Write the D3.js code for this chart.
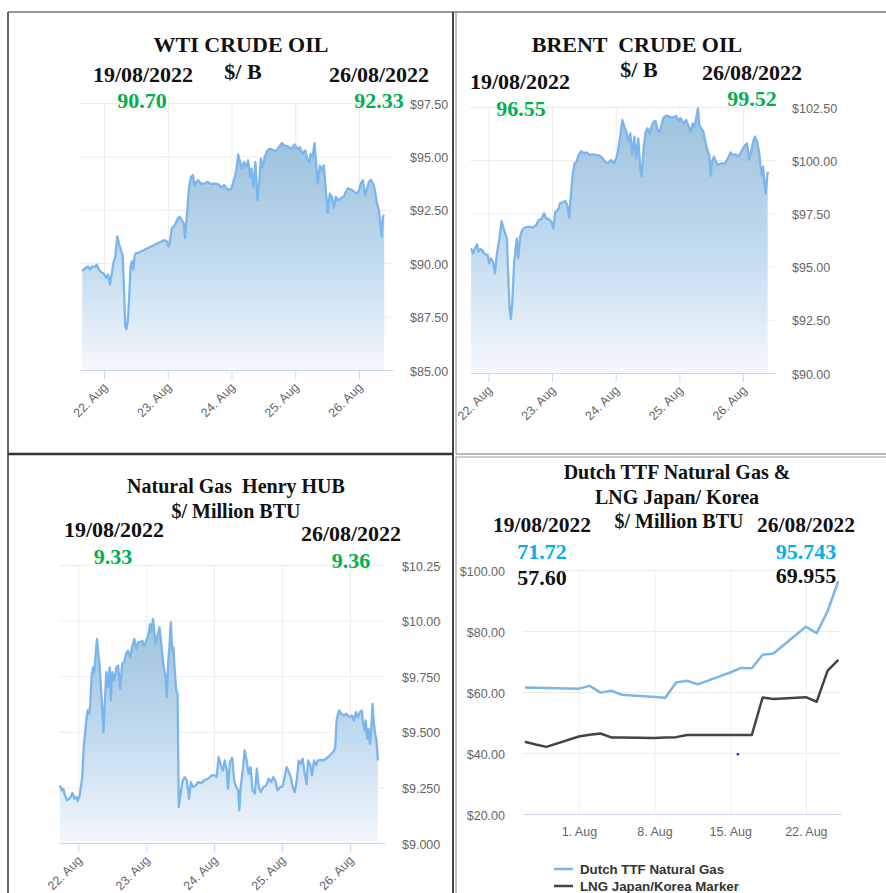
<!DOCTYPE html>
<html>
<head>
<meta charset="utf-8">
<script src="https://cdn.jsdelivr.net/npm/d3@7"></script>
<style>
  body { margin: 0; background: #fff; }
  svg { display: block; }
  .head { font-family: 'Liberation Serif', 'Times New Roman', serif; font-weight: bold; white-space: pre; }
</style>
</head>
<body>
<div id="chart"></div>
<script>
// intraday series: [hours since 21 Aug 2022 00:00, price]
const wtiSeries = [[15.75,89.62],[17,89.78],[18,89.85],[18.75,89.70],[19.5,89.85],[20.5,89.82],[21.25,89.93],[22,89.73],[23,89.57],[24,89.51],[24.75,89.31],[25.5,89.47],[26.25,89.0],[26.75,89.39],[27.5,90.0],[28.25,90.32],[29,91.25],[29.75,90.86],[30.5,90.55],[31,90.40],[31.5,88.92],[32,87.06],[32.5,86.91],[33,87.37],[33.5,88.46],[34,89.85],[34.5,90.09],[35,89.70],[35.5,90.32],[36,90.47],[36.5,90.47],[46.75,91.09],[47.75,91.01],[48.25,90.78],[48.75,90.94],[49.5,91.64],[50.25,91.71],[51,91.87],[51.75,92.10],[52.5,92.18],[53.25,92.02],[54,91.87],[54.5,91.17],[55.25,92.33],[56,93.57],[56.75,94.04],[57.5,94.12],[58,93.65],[58.75,93.81],[59.5,93.88],[60.5,93.73],[61.75,93.73],[63,93.81],[64.25,93.70],[65.75,93.73],[67,93.70],[68.25,93.54],[69.25,93.65],[70.5,93.45],[71.75,93.45],[72.5,93.73],[73.25,94.04],[74,94.50],[74.5,95.09],[75.25,94.74],[76,94.43],[76.75,94.74],[77.5,94.50],[78.25,94.81],[79,94.04],[79.5,94.43],[80.25,93.57],[81,94.74],[81.75,92.95],[82.5,93.88],[83,94.89],[83.75,94.50],[84.5,94.97],[85.5,95.28],[86.5,95.36],[87.5,95.31],[88.75,95.25],[90,95.47],[91,95.62],[92,95.51],[93.25,95.47],[94.5,95.36],[95.75,95.56],[96.75,95.36],[97.75,95.43],[98.75,95.12],[99.75,95.28],[100.5,94.89],[101.25,94.74],[101.75,95.12],[102.5,94.97],[103.25,95.62],[103.75,94.81],[104.5,93.73],[105.25,94.58],[106,94.35],[106.75,94.58],[107.5,93.42],[108.25,92.36],[109,93.26],[109.75,93.11],[110.5,92.57],[111.25,93.11],[112,92.95],[113,93.03],[114.25,93.11],[115,93.34],[115.75,93.50],[117,93.45],[118.25,93.34],[119.25,93.26],[120,93.42],[120.75,93.76],[121.5,93.88],[122.25,93.19],[123,93.50],[123.75,93.81],[124.5,93.91],[125.25,93.73],[126,93.42],[126.75,92.80],[127.5,92.49],[128,91.87],[128.5,91.25],[129,92.18],[129.5,92.26]]

const brentSeries = [[17.5,95.86],[18.25,95.62],[19,95.86],[19.75,96.05],[20.25,95.70],[21,95.83],[21.75,95.76],[22.75,95.58],[23.75,95.55],[24.25,95.15],[25,95.39],[25.75,95.23],[26.5,94.68],[27.25,95.62],[28,96.17],[29,97.14],[29.75,96.80],[30.5,96.49],[31,96.33],[31.5,94.61],[32,93.04],[32.5,92.54],[33,93.27],[33.75,95.23],[34.25,95.78],[34.75,96.33],[35.25,95.39],[36,96.41],[36.75,96.72],[37.75,96.83],[39.25,96.88],[40.75,96.83],[42,96.95],[43,97.19],[44,97.24],[45,97.50],[45.75,97.27],[46.75,97.24],[47.75,97.11],[48.5,96.80],[49.25,97.58],[50.25,97.66],[51,97.97],[52,98.02],[53,98.08],[53.75,97.89],[54.5,97.30],[55,98.21],[55.75,99.30],[56.5,99.85],[57.25,99.93],[58,100.24],[59,100.43],[60,100.32],[61,100.37],[62.25,100.24],[63.5,100.28],[64.75,100.24],[66,100.21],[67,100.09],[68,99.93],[69,99.85],[70.25,100.01],[71.25,99.85],[72.25,100.09],[73,100.56],[73.75,101.18],[74.5,101.89],[75.25,101.58],[76,101.34],[76.75,100.87],[77.5,101.26],[78.25,100.24],[79,101.11],[79.75,100.09],[80.5,101.03],[81.25,99.62],[81.75,99.23],[82.5,100.56],[83.25,101.34],[84,101.50],[84.75,101.26],[85.5,101.58],[86.25,101.81],[87,101.84],[87.75,101.42],[88.5,101.34],[89.25,101.65],[90,102.0],[91,102.09],[92.25,102.05],[93.5,102.0],[94.75,102.09],[95.75,101.84],[96.5,101.97],[97.5,101.73],[98.5,101.89],[99.5,101.58],[100.25,101.34],[101,101.73],[101.75,101.58],[102.5,102.12],[103,102.44],[103.5,101.65],[104.25,101.50],[105,101.34],[105.75,100.87],[106.5,100.48],[107.25,100.24],[107.75,99.27],[108.25,99.93],[109,100.17],[109.75,99.93],[110.5,99.77],[111.75,99.85],[113.25,99.85],[114.25,100.09],[115.25,100.37],[116,100.24],[117,100.28],[118,100.17],[119,100.32],[120,100.56],[120.75,100.71],[121.5,100.79],[122.25,100.01],[123,100.40],[123.75,100.87],[124.5,101.11],[125.25,100.87],[126,100.40],[126.5,99.77],[127,99.30],[127.5,99.70],[128,98.99],[128.5,98.44],[129,99.15],[129.25,99.46]]

const henrySeries = [[17.5,9.259],[18.1,9.237],[18.7,9.244],[19.3,9.214],[20.0,9.192],[20.7,9.199],[21.4,9.207],[21.9,9.225],[22.6,9.199],[23.3,9.207],[23.8,9.189],[24.5,9.214],[24.9,9.251],[25.4,9.296],[25.9,9.431],[26.4,9.491],[26.8,9.551],[27.3,9.596],[27.8,9.581],[28.2,9.618],[28.7,9.746],[29.2,9.790],[29.6,9.768],[30.1,9.843],[30.6,9.918],[31.1,9.850],[31.5,9.805],[32.0,9.701],[32.5,9.596],[32.9,9.499],[33.4,9.641],[33.9,9.768],[34.4,9.701],[35.1,9.790],[35.5,9.641],[36.0,9.768],[36.7,9.731],[37.4,9.790],[38.1,9.798],[38.8,9.693],[39.5,9.805],[40.2,9.813],[40.9,9.850],[41.6,9.865],[42.4,9.835],[43.1,9.888],[43.8,9.918],[44.5,9.873],[45.2,9.903],[45.9,9.903],[46.6,9.910],[47.3,9.888],[48.0,9.910],[48.7,9.933],[49.4,9.985],[49.9,9.948],[50.4,10.007],[50.8,9.963],[51.3,9.895],[52.0,9.933],[52.7,9.970],[53.4,9.888],[54.1,9.798],[54.8,9.753],[55.3,9.656],[55.8,9.820],[56.2,9.880],[56.7,9.993],[57.2,9.865],[57.6,9.880],[58.1,9.775],[58.6,9.686],[59.1,9.671],[59.5,9.162],[60.0,9.207],[60.5,9.251],[60.9,9.281],[61.6,9.296],[62.4,9.281],[63.1,9.199],[63.8,9.274],[64.5,9.251],[65.4,9.259],[66.4,9.274],[67.5,9.269],[68.7,9.284],[69.9,9.289],[71.1,9.304],[72.2,9.304],[72.9,9.296],[73.6,9.386],[74.4,9.349],[75.1,9.326],[75.8,9.371],[76.5,9.326],[76.9,9.244],[77.6,9.364],[78.4,9.383],[79.1,9.281],[79.8,9.251],[80.5,9.237],[80.9,9.147],[81.4,9.251],[82.1,9.326],[82.8,9.416],[83.5,9.371],[84.2,9.311],[84.9,9.341],[85.6,9.237],[86.4,9.222],[87.1,9.334],[87.8,9.251],[88.5,9.229],[89.4,9.251],[90.4,9.259],[91.3,9.289],[92.2,9.274],[92.9,9.296],[93.6,9.281],[94.4,9.237],[95.3,9.251],[96.2,9.254],[96.9,9.296],[97.6,9.341],[98.4,9.319],[99.1,9.296],[99.8,9.251],[100.5,9.229],[101.2,9.281],[101.9,9.371],[102.6,9.356],[103.3,9.379],[104.0,9.311],[104.7,9.266],[105.2,9.371],[105.9,9.356],[106.6,9.304],[107.3,9.371],[108.0,9.349],[108.7,9.371],[109.6,9.374],[110.6,9.371],[111.5,9.379],[112.5,9.389],[113.4,9.401],[114.4,9.416],[114.8,9.431],[115.3,9.551],[115.8,9.581],[116.2,9.596],[116.9,9.581],[117.9,9.573],[118.8,9.581],[119.8,9.566],[120.7,9.573],[121.4,9.551],[122.1,9.588],[122.8,9.566],[123.5,9.588],[124.2,9.596],[124.7,9.536],[125.2,9.506],[125.6,9.551],[126.1,9.469],[126.6,9.513],[127.1,9.446],[127.5,9.506],[128.0,9.626],[128.5,9.536],[128.9,9.491],[129.4,9.461],[129.9,9.371]]

// daily series for TTF / LNG
const gasDates = ['2022-07-27','2022-07-28','2022-07-29','2022-08-01','2022-08-02','2022-08-03','2022-08-04','2022-08-05','2022-08-08','2022-08-09','2022-08-10','2022-08-11','2022-08-12','2022-08-15','2022-08-16','2022-08-17','2022-08-18','2022-08-19','2022-08-22','2022-08-23','2022-08-24','2022-08-25']
const ttfValues = [61.5,61.4,61.3,61.1,62.0,59.8,60.4,59.1,58.4,58.1,63.1,63.7,62.5,66.4,67.9,67.8,72.2,72.6,81.4,79.3,86.4,96.4]
const lngValues = [43.7,42.8,42.0,45.4,46.0,46.4,45.1,45.1,44.9,45.1,45.2,45.9,45.9,45.9,45.9,45.9,58.2,57.7,58.3,56.8,66.9,70.5]
const strayDot = [['2022-08-15T17:00', 39.6]]

// tick values
const oilDays = ['2022-08-22','2022-08-23','2022-08-24','2022-08-25','2022-08-26']
const gasWeeks = ['2022-08-01','2022-08-08','2022-08-15','2022-08-22']
const wtiTicks = [85, 87.5, 90, 92.5, 95, 97.5]
const brentTicks = [90, 92.5, 95, 97.5, 100, 102.5]
const henryTicks = [9, 9.25, 9.5, 9.75, 10, 10.25]
const gasTicks = [20, 40, 60, 80, 100]
const legendNames = ['Dutch TTF Natural Gas', 'LNG Japan/Korea Marker']

// header texts
const fromDate = '19/08/2022'
const toDateText = '26/08/2022'
const wtiQuotes = ['90.70', '92.33']
const brentQuotes = ['96.55', '99.52']
const henryQuotes = ['9.33', '9.36']
const ttfQuotes = ['71.72', '95.743']
const lngQuotes = ['57.60', '69.955']

const W = 886, H = 893
const base = new Date(2022, 7, 21)
const hourDate = (h) => new Date(base.getTime() + h * 3600 * 1000)
const parseDay = d3.timeParse('%Y-%m-%d')
const parseHour = d3.timeParse('%Y-%m-%dT%H:%M')
const sans = "'Liberation Sans', Arial, sans-serif"

const svg = d3.select('#chart').append('svg').attr('width', W).attr('height', H)
svg.append('rect').attr('width', W).attr('height', H).attr('fill', '#fff')
const defs = svg.append('defs')

function clipRect(id, x, y, w, h) {
  defs.append('clipPath').attr('id', id).append('rect')
    .attr('x', x).attr('y', y).attr('width', w).attr('height', h)
}

// one intraday area chart (WTI, Brent, Henry Hub)
function intraday(p) {
  clipRect('clip-' + p.name, p.clip[0], p.clip[1], p.clip[2], p.clip[3])
  const g = svg.append('g').attr('clip-path', `url(#clip-${p.name})`)

  const x = d3.scaleTime().domain([hourDate(p.h0), hourDate(p.h1)]).range([p.left, p.right])
  const y = d3.scaleLinear().domain(d3.extent(p.ticks)).range([p.bottom, p.top])
  const days = oilDays.map(parseDay)

  // grid
  g.append('g').attr('transform', `translate(${p.left},0)`)
    .call(d3.axisLeft(y).tickValues(p.ticks).tickSize(-(p.right - p.left)).tickFormat(''))
    .call((a) => a.select('.domain').remove())
    .call((a) => a.selectAll('line').attr('stroke', '#ececec'))
  g.append('g').attr('transform', `translate(0,${p.bottom})`)
    .call(d3.axisBottom(x).tickValues(days).tickSize(-(p.bottom - p.top)).tickFormat('').tickSizeOuter(0))
    .call((a) => a.select('.domain').remove())
    .call((a) => a.selectAll('line').attr('stroke', '#ececec'))

  // gradient area + line
  const grad = defs.append('linearGradient').attr('id', 'grad-' + p.name)
    .attr('x1', 0).attr('y1', 0).attr('x2', 0).attr('y2', 1)
  grad.append('stop').attr('offset', 0).attr('stop-color', '#9cc2dd')
  grad.append('stop').attr('offset', 0.5).attr('stop-color', '#bfd9ee')
  grad.append('stop').attr('offset', 1).attr('stop-color', '#f4f8fd')

  const data = p.series.map(([h, v]) => ({ date: hourDate(h), v }))
  g.append('path').datum(data)
    .attr('fill', `url(#grad-${p.name})`)
    .attr('d', d3.area().x((d) => x(d.date)).y0(p.bottom).y1((d) => y(d.v)))
  g.append('path').datum(data)
    .attr('fill', 'none')
    .attr('stroke', '#7cb5ec')
    .attr('stroke-width', 2.3)
    .attr('stroke-linejoin', 'round')
    .attr('d', d3.line().x((d) => x(d.date)).y((d) => y(d.v)))

  // x axis with rotated labels
  g.append('g').attr('transform', `translate(0,${p.bottom})`)
    .call(d3.axisBottom(x).tickValues(days).tickSize(9).tickSizeOuter(0).tickFormat(d3.timeFormat('%-d. %b')))
    .call((a) => a.select('.domain').attr('stroke', '#ccd6eb'))
    .call((a) => a.selectAll('line').attr('stroke', '#ccd6eb'))
    .call((a) => a.selectAll('text')
      .attr('y', 0).attr('dy', 0).attr('text-anchor', 'end')
      .attr('transform', 'translate(4,18) rotate(-45)')
      .attr('fill', '#666').attr('font-size', 12.5).attr('font-family', sans))

  // y labels on the right
  g.append('g').attr('transform', `translate(${p.right},0)`)
    .call(d3.axisRight(y).tickValues(p.ticks).tickSize(0).tickPadding(17).tickFormat(d3.format(p.fmt)))
    .call((a) => a.select('.domain').remove())
    .call((a) => a.selectAll('text')
      .attr('fill', '#666').attr('font-size', 12.5).attr('font-family', sans).attr('dy', '0.4em'))
}

intraday({ name: 'wti', series: wtiSeries, ticks: wtiTicks, fmt: '$.2f',
  left: 80, right: 393, top: 103, bottom: 370, h0: 14.96, h1: 132.8, clip: [9, 13, 443, 440] })
intraday({ name: 'brent', series: brentSeries, ticks: brentTicks, fmt: '$.2f',
  left: 470, right: 775, top: 107, bottom: 373, h0: 17.1, h1: 132.0, clip: [457, 13, 429, 440] })
intraday({ name: 'henry', series: henrySeries, ticks: henryTicks, fmt: '$.3f',
  left: 59, right: 385, top: 565, bottom: 843, h0: 17.18, h1: 132.4, clip: [9, 456, 432, 437] })

// TTF / LNG panel
{
  clipRect('clip-gas', 457, 458, 429, 435)
  const g = svg.append('g').attr('clip-path', 'url(#clip-gas)')
  const left = 523, right = 841, top = 570, bottom = 814
  const x = d3.scaleTime().domain([new Date(2022, 6, 26, 20), new Date(2022, 7, 25, 6)]).range([left, right])
  const y = d3.scaleLinear().domain([20, 100]).range([bottom, top])
  const weeks = gasWeeks.map(parseDay)

  g.append('g').attr('transform', `translate(${left},0)`)
    .call(d3.axisLeft(y).tickValues(gasTicks).tickSize(-(right - left)).tickFormat(''))
    .call((a) => a.select('.domain').remove())
    .call((a) => a.selectAll('line').attr('stroke', '#ececec'))
  g.append('g').attr('transform', `translate(0,${bottom})`)
    .call(d3.axisBottom(x).tickValues(weeks).tickSize(-(bottom - top)).tickFormat('').tickSizeOuter(0))
    .call((a) => a.select('.domain').remove())
    .call((a) => a.selectAll('line').attr('stroke', '#ececec'))

  g.append('g').attr('transform', `translate(0,${bottom})`)
    .call(d3.axisBottom(x).tickValues(weeks).tickSize(0).tickPadding(13).tickSizeOuter(0).tickFormat(d3.timeFormat('%-d. %b')))
    .call((a) => a.select('.domain').attr('stroke', '#ccd6eb'))
    .call((a) => a.selectAll('text').attr('fill', '#666').attr('font-size', 12.5).attr('font-family', sans))

  g.append('g').attr('transform', `translate(${left},0)`)
    .call(d3.axisLeft(y).tickValues(gasTicks).tickSize(0).tickPadding(18).tickFormat(d3.format('$.2f')))
    .call((a) => a.select('.domain').remove())
    .call((a) => a.selectAll('text').attr('fill', '#666').attr('font-size', 12.5).attr('font-family', sans).attr('dy', '0.4em'))

  const dates = gasDates.map(parseDay)
  const line = d3.line().x((d) => x(d[0])).y((d) => y(d[1]))
  const series = [
    { values: ttfValues, color: '#7cb5ec' },
    { values: lngValues, color: '#434348' },
  ]
  series.forEach((s) => {
    g.append('path').datum(dates.map((d, i) => [d, s.values[i]]))
      .attr('fill', 'none').attr('stroke', s.color).attr('stroke-width', 2.5)
      .attr('stroke-linejoin', 'round').attr('d', line)
  })

  g.selectAll('circle.stray').data(strayDot).enter().append('circle')
    .attr('cx', (d) => x(parseHour(d[0]))).attr('cy', (d) => y(d[1]))
    .attr('r', 1.3).attr('fill', '#1a2bd8')

  // legend
  const lg = g.selectAll('g.legend').data(legendNames).enter().append('g')
    .attr('transform', (d, i) => `translate(554,${869 + i * 17})`)
  lg.append('line').attr('x1', 0).attr('x2', 19)
    .attr('stroke', (d, i) => series[i].color).attr('stroke-width', 2.5)
  lg.append('text').attr('x', 26).attr('dy', '0.35em')
    .attr('font-family', sans).attr('font-size', 13.3).attr('font-weight', 'bold').attr('fill', '#333')
    .text((d) => d)
}

// headers
const green = '#00b050', cyan = '#00b0f0', ink = '#111'
const heads = [
  ['WTI CRUDE OIL', 241, 52, 22, ink],
  [fromDate, 143, 82, 22, ink],
  ['$/ B', 243, 79, 22, ink],
  [toDateText, 379, 82, 22, ink],
  [wtiQuotes[0], 142, 108, 22, green],
  [wtiQuotes[1], 379, 108, 22, green],

  ['BRENT  CRUDE OIL', 637, 52, 22, ink],
  ['$/ B', 639, 77, 22, ink],
  [fromDate, 520, 89, 22, ink],
  [toDateText, 752, 80, 22, ink],
  [brentQuotes[0], 521, 116, 22, green],
  [brentQuotes[1], 752, 106, 22, green],

  ['Natural Gas  Henry HUB', 236, 493, 20, ink],
  ['$/ Million BTU', 236, 518, 20, ink],
  [fromDate, 114, 537, 22, ink],
  [toDateText, 351, 541, 22, ink],
  [henryQuotes[0], 113, 564, 22, green],
  [henryQuotes[1], 351, 568, 22, green],

  ['Dutch TTF Natural Gas &', 677, 479, 20, ink],
  ['LNG Japan/ Korea', 677, 504, 20, ink],
  [fromDate, 542, 532, 21.5, ink],
  ['$/ Million BTU', 679, 528, 20, ink],
  [toDateText, 806, 532, 21.5, ink],
  [ttfQuotes[0], 542, 559, 22, cyan],
  [ttfQuotes[1], 806, 559, 22, cyan],
  [lngQuotes[0], 542, 585, 22, ink],
  [lngQuotes[1], 806, 583, 22, ink],
]
svg.append('g').selectAll('text').data(heads).enter().append('text')
  .attr('class', 'head')
  .attr('x', (d) => d[1]).attr('y', (d) => d[2])
  .attr('font-size', (d) => d[3]).attr('fill', (d) => d[4])
  .attr('text-anchor', 'middle')
  .text((d) => d[0])

// table frame
const frame = [
  [8, 12, 886, 12, '#777', 1.5],
  [8, 12, 8, 893, '#666', 2],
  [453, 12, 453, 893, '#444', 2],
  [456, 12, 456, 454, '#888', 1],
  [456, 457, 456, 893, '#888', 1],
  [8, 454, 453, 454, '#333', 2.5],
  [456, 454, 886, 454, '#777', 1.2],
  [456, 457, 886, 457, '#999', 1],
]
svg.append('g').selectAll('line').data(frame).enter().append('line')
  .attr('x1', (d) => d[0]).attr('y1', (d) => d[1])
  .attr('x2', (d) => d[2]).attr('y2', (d) => d[3])
  .attr('stroke', (d) => d[4]).attr('stroke-width', (d) => d[5])
</script>
</body>
</html>
